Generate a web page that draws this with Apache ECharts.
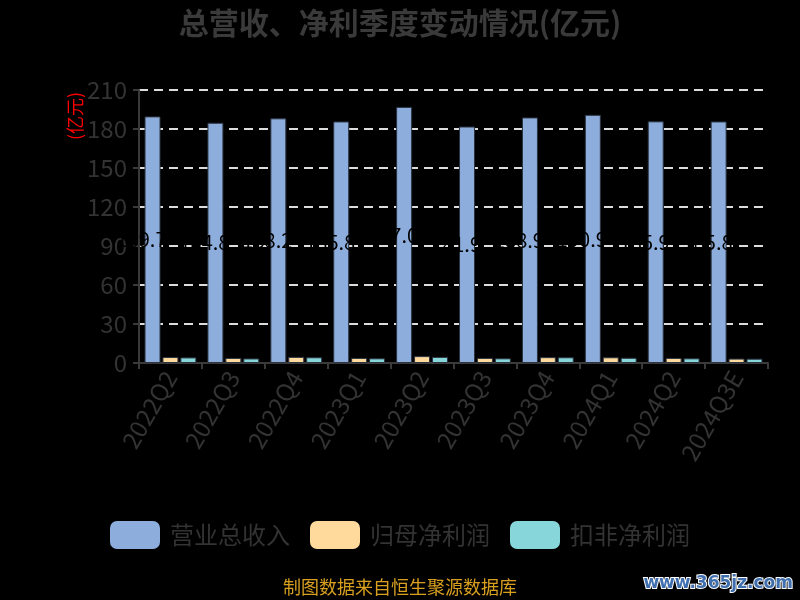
<!DOCTYPE html>
<html><head><meta charset="utf-8">
<script src="https://cdn.jsdelivr.net/npm/echarts@6/dist/echarts.min.js"></script>
<style>html,body{margin:0;padding:0;background:#000;}#c{width:800px;height:600px;}</style>
</head><body><div id="c"></div>
<script>
const categories = ['2022Q2','2022Q3','2022Q4','2023Q1','2023Q2','2023Q3','2023Q4','2024Q1','2024Q2','2024Q3E'];
const revenue = [189.7,184.8,188.2,185.8,197.0,181.9,188.9,190.9,185.9,185.8];
const netProfit = [4.6,3.9,4.7,3.9,5.3,3.9,4.5,4.4,3.9,3.4];
const deductedProfit = [4.3,3.5,4.4,3.6,4.7,3.6,4.4,4.0,3.6,3.3];
const seriesNames = ['营业总收入','归母净利润','扣非净利润'];
const yTicks = {min:0, max:210, interval:30};

const font = "'Noto Sans CJK SC','Noto Sans',sans-serif";
const chart = echarts.init(document.getElementById('c'));
const barStyle = c => ({color:c, borderColor:'#2b3340', borderWidth:1});
chart.setOption({
  backgroundColor:'#000',
  textStyle:{fontFamily:font},
  title:{text:'总营收、净利季度变动情况(亿元)', left:'center', top:3,
    textStyle:{color:'#3a3a3a', fontSize:30, fontWeight:'bold', fontFamily:font}},
  legend:{bottom:46, left:'center', itemWidth:50, itemHeight:28, itemGap:20,
    itemStyle:{borderWidth:0},
    textStyle:{color:'#333', fontSize:24, fontFamily:font, padding:[0,0,0,5]},
    data:seriesNames},
  grid:{left:139, right:32, top:90, bottom:237},
  xAxis:{type:'category', data:categories,
    axisLine:{lineStyle:{color:'#3a3a3a', width:2}},
    axisTick:{show:true, length:6, lineStyle:{color:'#3a3a3a', width:2}},
    axisLabel:{rotate:60, color:'#333', fontSize:24, margin:10, fontFamily:font}},
  yAxis:{type:'value', min:yTicks.min, max:yTicks.max, interval:yTicks.interval,
    axisLine:{show:true, lineStyle:{color:'#3a3a3a', width:2}},
    axisTick:{show:true, length:6, lineStyle:{color:'#3a3a3a', width:2}},
    axisLabel:{color:'#333', fontSize:24, margin:12, fontFamily:font},
    splitLine:{lineStyle:{color:'#dcdcdc', width:2, type:[9,6]}}},
  series:[
    {name:seriesNames[0], type:'bar', data:revenue, barWidth:16, barGap:'12%',
      itemStyle:barStyle('#8daedc'),
      label:{show:true, position:'inside', offset:[-11,0], color:'#000', textBorderWidth:0, fontSize:20, fontFamily:font,
        formatter:p => p.value.toFixed(1)}},
    {name:seriesNames[1], type:'bar', data:netProfit, barWidth:16, barGap:'12%',
      itemStyle:barStyle('#ffda9c')},
    {name:seriesNames[2], type:'bar', data:deductedProfit, barWidth:16, barGap:'12%',
      itemStyle:barStyle('#87d6d9')}
  ],
  graphic:[
    {type:'text', x:75, y:116, rotation:Math.PI/2, style:{text:'(亿元)', fill:'#ff0000', align:'center', verticalAlign:'middle', font:"18px 'Noto Sans CJK SC'"}},
    {type:'text', left:'center', top:578, style:{text:'制图数据来自恒生聚源数据库', fill:'#d9a020', font:"18px 'Noto Sans CJK SC'"}},
    {type:'text', right:6, top:574, style:{text:'www.365jz.com', fill:'#3f6fae', stroke:'#ffffff', lineWidth:2, font:"bold 17px 'DejaVu Sans'"}}
  ]
});
</script></body></html>
